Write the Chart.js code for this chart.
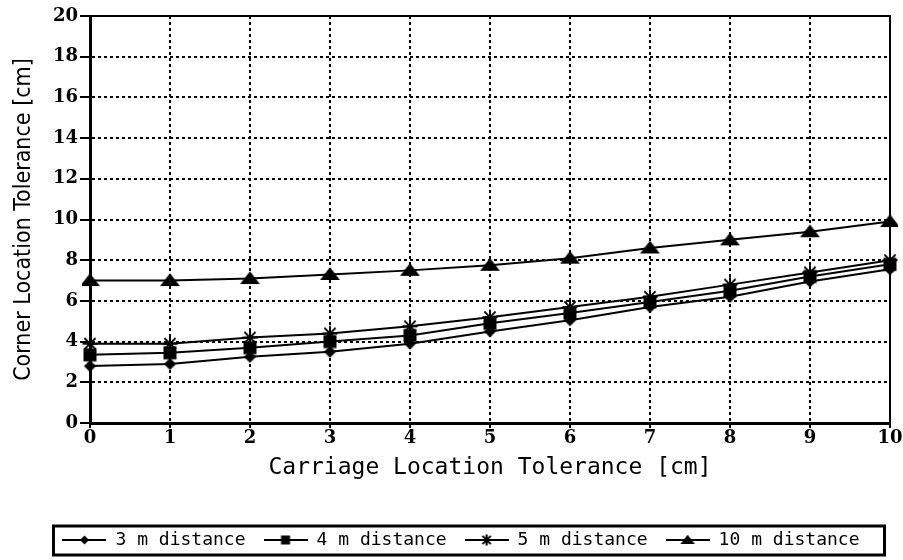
<!DOCTYPE html>
<html>
<head>
<meta charset="utf-8">
<script src="https://cdn.jsdelivr.net/npm/chart.js@4.4.1/dist/chart.umd.min.js"></script>
<style>
  html, body { margin: 0; padding: 0; background: #fff; }
  #wrap { width: 903px; height: 560px; }
</style>
</head>
<body>
<div id="wrap"><canvas id="c" width="903" height="560"></canvas></div>
<script>
// ---- data ----
const categories = ['0','1','2','3','4','5','6','7','8','9','10'];
const seriesNames = ['3 m distance', '4 m distance', '5 m distance', '10 m distance'];
const dist3  = [2.8, 2.9, 3.25, 3.5, 3.9, 4.5, 5.05, 5.7, 6.2, 6.95, 7.55];
const dist4  = [3.35, 3.45, 3.7, 4.0, 4.3, 4.9, 5.4, 5.95, 6.5, 7.2, 7.8];
const dist5  = [3.9, 3.9, 4.2, 4.4, 4.75, 5.2, 5.7, 6.2, 6.8, 7.4, 8.0];
const dist10 = [7.0, 7.0, 7.1, 7.3, 7.5, 7.75, 8.1, 8.6, 9.0, 9.4, 9.9];
const yTicks = [0, 2, 4, 6, 8, 10, 12, 14, 16, 18, 20];
const xTitle = 'Carriage Location Tolerance [cm]';
const yTitle = 'Corner Location Tolerance [cm]';

// ---- marker images ----
function drawMarker(ctx, kind, cx, cy, s) {
  ctx.fillStyle = '#000'; ctx.strokeStyle = '#000';
  if (kind === 'diamond') {
    ctx.beginPath();
    ctx.moveTo(cx, cy - s); ctx.lineTo(cx + s, cy); ctx.lineTo(cx, cy + s); ctx.lineTo(cx - s, cy);
    ctx.closePath(); ctx.fill();
  } else if (kind === 'square') {
    ctx.fillRect(cx - s, cy - s, 2 * s, 2 * s);
  } else if (kind === 'star') {
    ctx.lineWidth = 2;
    ctx.beginPath();
    ctx.moveTo(cx - s, cy); ctx.lineTo(cx + s, cy);
    ctx.moveTo(cx, cy - s); ctx.lineTo(cx, cy + s);
    const d = s * 0.75;
    ctx.moveTo(cx - d, cy - d); ctx.lineTo(cx + d, cy + d);
    ctx.moveTo(cx - d, cy + d); ctx.lineTo(cx + d, cy - d);
    ctx.stroke();
  } else if (kind === 'triangle') {
    const w = s * 1.8, h = s * 1.1;
    ctx.beginPath();
    ctx.moveTo(cx, cy - h * 0.6); ctx.lineTo(cx + w / 2, cy + h * 0.45); ctx.lineTo(cx - w / 2, cy + h * 0.45);
    ctx.closePath(); ctx.fill();
  }
}
function makePointImg(kind, s) {
  const size = Math.ceil(s * 2.4) + 2;
  const c = document.createElement('canvas');
  c.width = size; c.height = size;
  drawMarker(c.getContext('2d'), kind, size / 2, size / 2, s);
  return c;
}
function makeLegendImg(kind, s) {
  const c = document.createElement('canvas');
  c.width = 44; c.height = 16;
  const ctx = c.getContext('2d');
  ctx.strokeStyle = '#000'; ctx.lineWidth = 2;
  ctx.beginPath(); ctx.moveTo(0, 8); ctx.lineTo(44, 8); ctx.stroke();
  drawMarker(ctx, kind, 22, 8, s);
  return c;
}
const kinds = ['diamond', 'square', 'star', 'triangle'];
const pointSizes = [6, 6.5, 7.5, 11];
const legendSizes = [4.5, 4.5, 5.5, 8];
const pointImgs = kinds.map((k, i) => makePointImg(k, pointSizes[i]));
const legendImgs = kinds.map((k, i) => makeLegendImg(k, legendSizes[i]));
const seriesData = [dist3, dist4, dist5, dist10];

const legendShift = 16;

const framePlugin = {
  id: 'framePlugin',
  beforeDraw(chart) {
    const ctx = chart.ctx;
    ctx.save(); ctx.fillStyle = '#fff'; ctx.fillRect(0, 0, chart.width, chart.height); ctx.restore();
  },
  afterLayout(chart) {
    const lg = chart.legend;
    if (lg) { lg.left += legendShift; lg.right += legendShift; }
  },
  beforeDatasetsDraw(chart) {
    const {ctx, chartArea: a} = chart;
    ctx.save();
    ctx.strokeStyle = '#000'; ctx.lineWidth = 2;
    ctx.strokeRect(a.left, a.top, a.right - a.left, a.bottom - a.top);
    ctx.restore();
  },
  afterDraw(chart) {
    const lg = chart.legend;
    if (!lg || !lg.legendHitBoxes || !lg.legendHitBoxes.length) return;
    const hb = lg.legendHitBoxes;
    const first = hb[0], last = hb[hb.length - 1];
    const cy = first.top + first.height / 2;
    const ctx = chart.ctx;
    ctx.save();
    ctx.strokeStyle = '#000'; ctx.lineWidth = 3;
    ctx.strokeRect(first.left - 9, cy - 14, (last.left + last.width + 25) - (first.left - 9), 29);
    ctx.restore();
  }
};

new Chart(document.getElementById('c'), {
  type: 'line',
  data: {
    labels: categories,
    datasets: seriesNames.map((name, i) => ({
      label: name,
      data: seriesData[i],
      borderColor: '#000',
      backgroundColor: '#000',
      borderWidth: 2,
      pointStyle: pointImgs[i],
      pointRadius: 6,
      tension: 0,
      fill: false
    }))
  },
  options: {
    responsive: false,
    animation: false,
    events: [],
    layout: { padding: { top: 16, right: 13, bottom: 1, left: 0 } },
    plugins: {
      tooltip: { enabled: false },
      legend: {
        display: true,
        position: 'bottom',
        labels: {
          usePointStyle: true,
          pointStyleWidth: 44,
          padding: 18,
          color: '#000',
          font: { family: "'DejaVu Sans Mono', monospace", size: 18 },
          generateLabels(chart) {
            return chart.data.datasets.map((ds, i) => ({
              text: ds.label, pointStyle: legendImgs[i], datasetIndex: i,
              fillStyle: '#000', strokeStyle: '#000', lineWidth: 0, hidden: false, fontColor: '#000'
            }));
          }
        }
      }
    },
    scales: {
      x: {
        type: 'category',
        offset: false,
        afterFit(scale) { scale.height = 90; },
        grid: {
          color: '#000', lineWidth: 2,
          drawTicks: true, tickLength: 5, tickColor: '#000', tickWidth: 2, tickBorderDash: [], offset: false
        },
        border: { display: true, color: '#000', width: 3, dash: [3, 3] },
        ticks: {
          color: '#000', padding: 0, maxRotation: 0, autoSkip: false,
          font: { family: "'DejaVu Serif', serif", size: 18, weight: 'bold' }
        },
        title: {
          display: true, text: xTitle, color: '#000',
          font: { family: "'DejaVu Sans Mono', monospace", size: 23 },
          padding: { top: 0, bottom: 31 }
        }
      },
      y: {
        min: 0, max: 20,
        afterFit(scale) { scale.width = 90; },
        afterBuildTicks(scale) { scale.ticks = yTicks.map(v => ({ value: v })); },
        grid: {
          color: '#000', lineWidth: 2,
          drawTicks: true, tickLength: 10, tickColor: '#000', tickWidth: 2, tickBorderDash: []
        },
        border: { display: true, color: '#000', width: 3, dash: [3, 3] },
        ticks: {
          color: '#000', padding: 2,
          font: { family: "'DejaVu Serif', serif", size: 18, weight: 'bold' }
        },
        title: {
          display: true, text: yTitle, color: '#000',
          font: { family: "'DejaVu Sans Condensed', 'DejaVu Sans', sans-serif", size: 23 },
          padding: { top: 10, bottom: 0 }
        }
      }
    }
  },
  plugins: [framePlugin]
});
</script>
</body>
</html>
